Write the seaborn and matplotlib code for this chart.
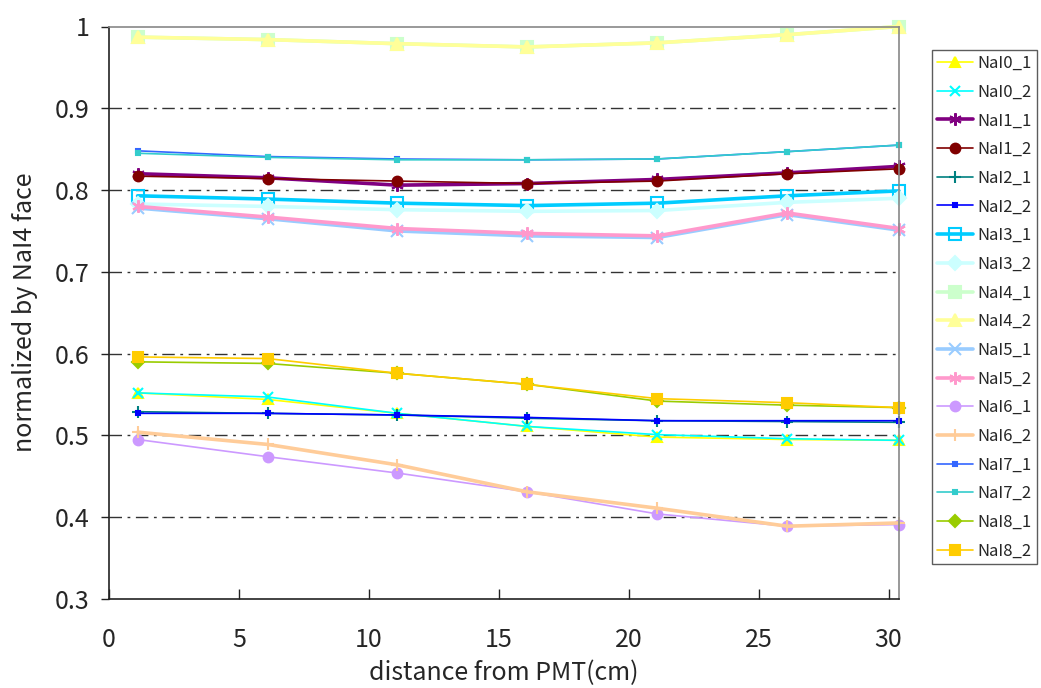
import numpy as np
import pandas as pd
import matplotlib
matplotlib.use('Agg')
import matplotlib.pyplot as plt
import seaborn as sns

# distance from PMT (cm)
x = [1.1, 6.1, 11.1, 16.1, 21.1, 26.1, 30.4]

nai0_1 = [0.552, 0.544, 0.527, 0.511, 0.498, 0.495, 0.494]
nai0_2 = [0.552, 0.547, 0.527, 0.511, 0.501, 0.496, 0.494]
nai1_1 = [0.820, 0.815, 0.806, 0.808, 0.813, 0.821, 0.829]
nai1_2 = [0.817, 0.814, 0.811, 0.808, 0.811, 0.820, 0.826]
nai2_1 = [0.529, 0.527, 0.525, 0.521, 0.518, 0.517, 0.516]
nai2_2 = [0.527, 0.527, 0.525, 0.522, 0.518, 0.518, 0.518]
nai3_1 = [0.793, 0.789, 0.784, 0.781, 0.784, 0.793, 0.799]
nai3_2 = [0.783, 0.780, 0.776, 0.774, 0.775, 0.785, 0.790]
nai4_1 = [0.987, 0.984, 0.979, 0.975, 0.980, 0.990, 1.000]
nai4_2 = [0.987, 0.984, 0.979, 0.975, 0.980, 0.990, 1.000]
nai5_1 = [0.778, 0.765, 0.750, 0.744, 0.742, 0.770, 0.751]
nai5_2 = [0.780, 0.767, 0.753, 0.747, 0.744, 0.772, 0.753]
nai6_1 = [0.495, 0.474, 0.454, 0.431, 0.404, 0.389, 0.391]
nai6_2 = [0.504, 0.489, 0.464, 0.431, 0.411, 0.389, 0.393]
nai7_1 = [0.848, 0.841, 0.838, 0.837, 0.838, 0.847, 0.855]
nai7_2 = [0.845, 0.840, 0.837, 0.837, 0.838, 0.847, 0.855]
nai8_1 = [0.590, 0.588, 0.576, 0.5625, 0.542, 0.537, 0.534]
nai8_2 = [0.596, 0.594, 0.576, 0.5625, 0.545, 0.540, 0.534]

names = ['NaI0_1', 'NaI0_2', 'NaI1_1', 'NaI1_2', 'NaI2_1', 'NaI2_2',
         'NaI3_1', 'NaI3_2', 'NaI4_1', 'NaI4_2', 'NaI5_1', 'NaI5_2',
         'NaI6_1', 'NaI6_2', 'NaI7_1', 'NaI7_2', 'NaI8_1', 'NaI8_2']
values = [nai0_1, nai0_2, nai1_1, nai1_2, nai2_1, nai2_2, nai3_1, nai3_2,
          nai4_1, nai4_2, nai5_1, nai5_2, nai6_1, nai6_2, nai7_1, nai7_2,
          nai8_1, nai8_2]

asterisk = (6, 2, 0)
# color, marker, markersize, linewidth, filled marker
styles = {
    'NaI0_1': ('#FFFF00', '^', 7, 1.2, True),
    'NaI0_2': ('#00FFFF', 'x', 7, 1.2, True),
    'NaI1_1': ('#800080', asterisk, 9, 2.6, True),
    'NaI1_2': ('#800000', 'o', 7, 1.2, True),
    'NaI2_1': ('#008080', '+', 8, 1.2, True),
    'NaI2_2': ('#0000FF', 's', 3, 1.2, True),
    'NaI3_1': ('#00CCFF', 's', 8, 2.6, False),
    'NaI3_2': ('#CCFFFF', 'D', 7, 2.6, True),
    'NaI4_1': ('#CCFFCC', 's', 9, 2.6, True),
    'NaI4_2': ('#FFFF99', '^', 8, 2.6, True),
    'NaI5_1': ('#99CCFF', 'x', 8, 2.6, True),
    'NaI5_2': ('#FF99CC', asterisk, 9, 2.6, True),
    'NaI6_1': ('#CC99FF', 'o', 7, 1.2, True),
    'NaI6_2': ('#FFCC99', '+', 9, 2.6, True),
    'NaI7_1': ('#3366FF', 's', 3, 1.2, True),
    'NaI7_2': ('#33CCCC', 's', 3, 1.2, True),
    'NaI8_1': ('#99CC00', 'D', 6, 1.2, True),
    'NaI8_2': ('#FFCC00', 's', 7, 1.2, True),
}

sns.set_style('white')
plt.rcParams['font.family'] = ['Noto Sans CJK JP', 'DejaVu Sans']

fig = plt.figure(figsize=(10.41, 6.88), dpi=100)
ax = fig.add_axes([109 / 1041, 89 / 688, 790 / 1041, 572.5 / 688])

for name, vals in zip(names, values):
    color, marker, ms, lw, filled = styles[name]
    df = pd.DataFrame({'x': x, 'y': vals})
    sns.lineplot(data=df, x='x', y='y', ax=ax, color=color, lw=lw,
                 marker=marker, markersize=ms,
                 markerfacecolor=color if filled else 'none',
                 markeredgecolor=color, markeredgewidth=1.5,
                 label=name, clip_on=False)

ax.set_xlim(0, 30.4)
ax.set_ylim(0.3, 1.0)
ax.set_xticks([0, 5, 10, 15, 20, 25, 30])
ax.set_yticks([0.3, 0.4, 0.5, 0.6, 0.7, 0.8, 0.9, 1.0])
ax.set_yticklabels(['0.3', '0.4', '0.5', '0.6', '0.7', '0.8', '0.9', '1'])

for yv in [0.4, 0.5, 0.6, 0.7, 0.8, 0.9]:
    ax.axhline(yv, color='#333333', lw=1.0, dashes=(9, 4, 2, 4), zorder=0)

for side in ['top', 'right']:
    ax.spines[side].set_color('#888888')
    ax.spines[side].set_linewidth(1.2)
for side in ['left', 'bottom']:
    ax.spines[side].set_color('#222222')
    ax.spines[side].set_linewidth(1.2)

ax.tick_params(axis='y', direction='out', length=6, width=1, color='#222222',
               left=True, labelsize=18, pad=8)
ax.tick_params(axis='x', direction='in', length=7, width=1, color='#222222',
               bottom=True, labelsize=18, pad=20)

ax.set_xlabel('distance from PMT(cm)', fontsize=18, labelpad=5)
ax.set_ylabel('normalized by NaI4 face', fontsize=18, labelpad=12)

leg = ax.legend(loc='upper left', bbox_to_anchor=(932 / 1041, 1 - 50 / 688),
                bbox_transform=fig.transFigure, fontsize=12, frameon=True,
                fancybox=False, edgecolor='#333333', handlelength=2.15,
                labelspacing=0.7, borderpad=0.3, handletextpad=0.3,
                borderaxespad=0)
leg.get_frame().set_linewidth(1.0)

fig.savefig('out.png', dpi=100)
